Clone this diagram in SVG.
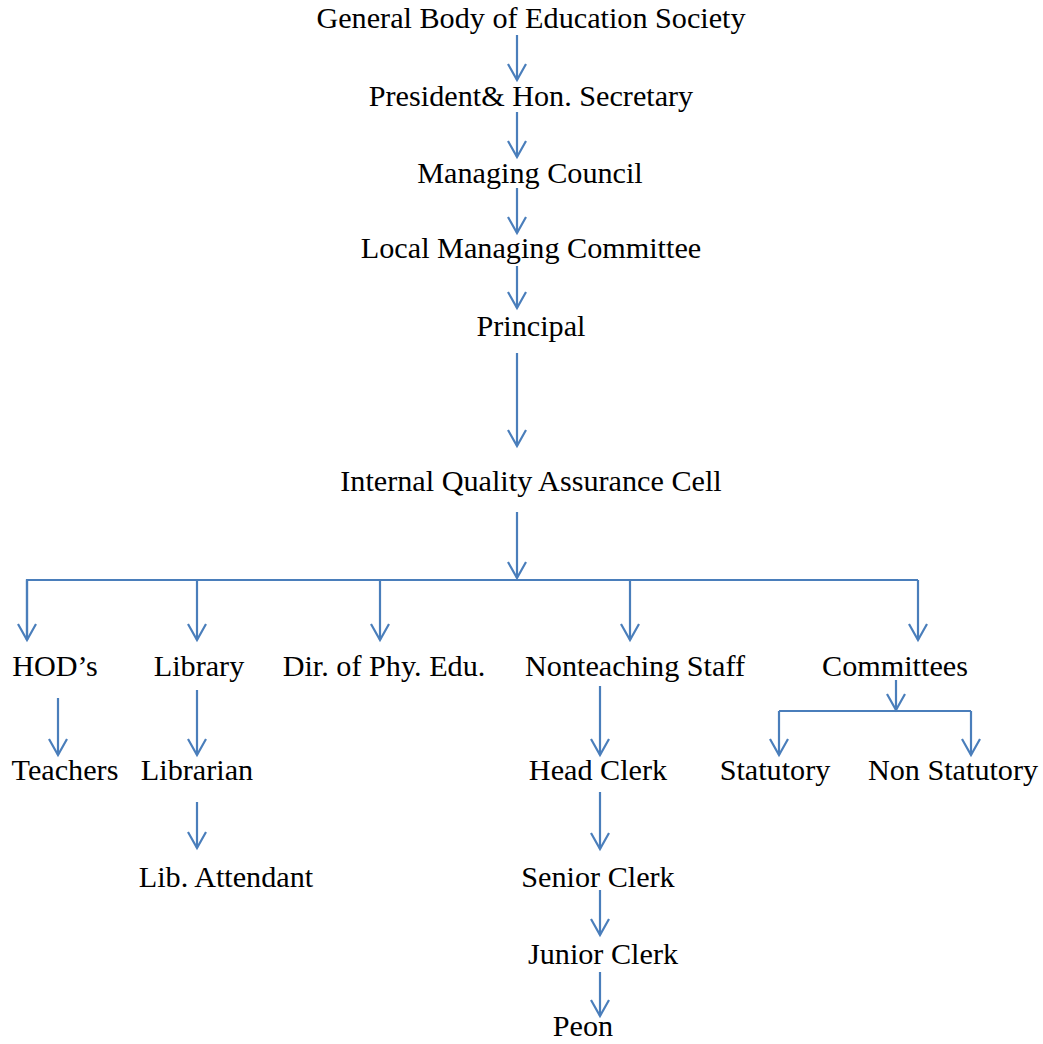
<svg xmlns="http://www.w3.org/2000/svg" width="1043" height="1044" viewBox="0 0 1043 1044">
<style>
text{font-family:"Liberation Serif","Times New Roman",serif;font-size:30.2px;fill:#000;text-anchor:middle}
.c{fill:none;stroke:#4a7ebb;stroke-width:2.2}
.a{marker-end:url(#ah)}
</style>
<defs>
<marker id="ah" markerUnits="userSpaceOnUse" viewBox="-19 -11 21 22" refX="0" refY="0" markerWidth="21" markerHeight="22" orient="auto" overflow="visible">
<path d="M-16,-9 L0,0 L-16,9" fill="none" stroke="#4a7ebb" stroke-width="2.2"/>
</marker>
</defs>
<rect width="1043" height="1044" fill="#fff"/>
<g id="connectors">
<path class="c a" d="M517,35 V80"/>
<path class="c a" d="M517,112 V157"/>
<path class="c a" d="M517,188 V233"/>
<path class="c a" d="M517,266 V308"/>
<path class="c a" d="M517,353 V446"/>
<path class="c a" d="M517,512 V578"/>
<path class="c" d="M27,640 V580 H918"/>
<path class="c a" d="M27,580 V640"/>
<path class="c a" d="M197,580 V640"/>
<path class="c a" d="M380,580 V640"/>
<path class="c a" d="M630,580 V640"/>
<path class="c a" d="M918,580 V640"/>
<path class="c a" d="M58,698 V755"/>
<path class="c a" d="M197,690 V755"/>
<path class="c a" d="M197,802 V848"/>
<path class="c a" d="M600,686 V755"/>
<path class="c a" d="M600,792 V849"/>
<path class="c a" d="M600,890 V935"/>
<path class="c a" d="M600,972 V1016"/>
<path class="c a" d="M896,680 V710"/>
<path class="c" d="M779,711 H971"/>
<path class="c a" d="M779,711 V755"/>
<path class="c a" d="M971,711 V755"/>
</g>
<g id="n1"><text x="531" y="28">General Body of Education Society</text></g>
<g id="n2"><text x="531" y="106">President&amp; Hon. Secretary</text></g>
<g id="n3"><text x="530" y="183">Managing Council</text></g>
<g id="n4"><text x="531" y="258">Local Managing Committee</text></g>
<g id="n5"><text x="531" y="336">Principal</text></g>
<g id="n6"><text x="531" y="491">Internal Quality Assurance Cell</text></g>
<g id="n7"><text x="55" y="676">HOD’s</text></g>
<g id="n8"><text x="199" y="676">Library</text></g>
<g id="n9"><text x="384" y="676">Dir. of Phy. Edu.</text></g>
<g id="n10"><text x="635" y="676">Nonteaching Staff</text></g>
<g id="n11"><text x="895" y="676">Committees</text></g>
<g id="n12"><text x="65" y="780">Teachers</text></g>
<g id="n13"><text x="197" y="780">Librarian</text></g>
<g id="n14"><text x="598" y="780">Head Clerk</text></g>
<g id="n15"><text x="775" y="780">Statutory</text></g>
<g id="n16"><text x="953" y="780">Non Statutory</text></g>
<g id="n17"><text x="226" y="887">Lib. Attendant</text></g>
<g id="n18"><text x="598" y="887">Senior Clerk</text></g>
<g id="n19"><text x="603" y="964">Junior Clerk</text></g>
<g id="n20"><text x="583" y="1036">Peon</text></g>
</svg>
